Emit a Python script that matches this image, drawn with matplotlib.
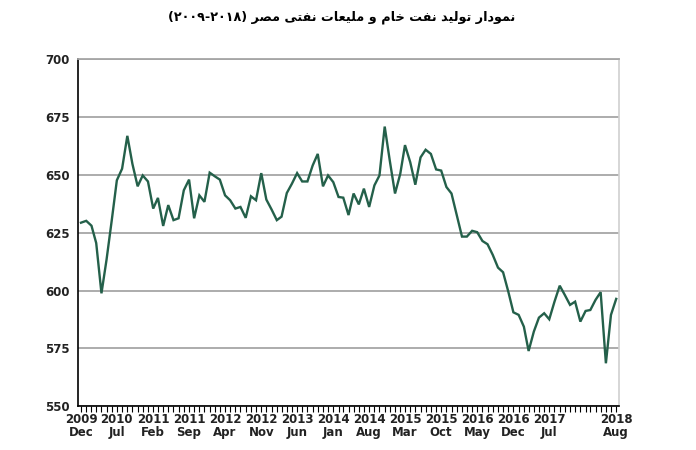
import matplotlib
matplotlib.use("Agg")
import matplotlib.pyplot as plt
import matplotlib.dates as mdates
import pandas as pd
import numpy as np

# ---------------- data ----------------
start_month = "2009-12"
production = [
    629.3, 630.1, 628.0, 620.5, 598.8, 613.3, 630.4, 647.6, 652.6, 666.8,
    654.7, 645.0, 649.7, 647.1, 635.4, 640.0, 627.9, 636.9, 630.4, 631.2,
    643.3, 647.9, 631.2, 641.1, 638.3, 650.9,
    649.3, 647.9, 641.1, 639.0, 635.4, 636.1, 631.4, 640.7, 639.0, 650.7,
    639.3, 635.0, 630.4, 631.9, 642.1, 646.1, 650.7, 647.1, 647.1, 654.0,
    659.0, 645.0, 649.7, 646.8, 640.4, 640.1,
    632.6, 641.9, 637.2, 644.0, 636.1, 645.4, 649.7, 670.8, 656.1, 641.9,
    650.4, 662.8, 655.4, 645.7, 657.5, 660.8, 659.0, 652.3, 651.8, 644.7,
    641.9, 632.6, 623.3, 623.3, 625.8,
    625.2, 621.4, 620.0, 615.4, 609.9, 607.9, 599.5, 590.6, 589.5, 584.4,
    573.9, 582.3, 588.3, 590.2, 587.6, 595.2, 602.1, 598.1, 593.8, 595.2,
    586.6, 591.2, 591.6, 596.0, 599.3, 568.6, 589.5, 596.4,
]
tick_dates = ["2009-12", "2010-07", "2011-02", "2011-09", "2012-04", "2012-11",
              "2013-06", "2014-01", "2014-08", "2015-03", "2015-10", "2016-05",
              "2016-12", "2017-07", "2018-08"]
tick_labels = ["2009\nDec", "2010\nJul", "2011\nFeb", "2011\nSep", "2012\nApr",
               "2012\nNov", "2013\nJun", "2014\nJan", "2014\nAug", "2015\nMar",
               "2015\nOct", "2016\nMay", "2016\nDec", "2017\nJul", "2018\nAug"]
y_ticks = [550, 575, 600, 625, 650, 675, 700]
title_text = "نمودار تولید نفت خام و ملیعات نفتی مصر"
title_years = "(٢٠٠٩-٢٠١٨)"

# ------------- simple Arabic shaping -------------
FORMS = {  # iso, fin, ini, med
    "ا": ("\uFE8D", "\uFE8E", None, None),
    "د": ("\uFEA9", "\uFEAA", None, None),
    "ر": ("\uFEAD", "\uFEAE", None, None),
    "و": ("\uFEED", "\uFEEE", None, None),
    "ت": ("\uFE95", "\uFE96", "\uFE97", "\uFE98"),
    "خ": ("\uFEA5", "\uFEA6", "\uFEA7", "\uFEA8"),
    "ص": ("\uFEB9", "\uFEBA", "\uFEBB", "\uFEBC"),
    "ع": ("\uFEC9", "\uFECA", "\uFECB", "\uFECC"),
    "ف": ("\uFED1", "\uFED2", "\uFED3", "\uFED4"),
    "ل": ("\uFEDD", "\uFEDE", "\uFEDF", "\uFEE0"),
    "م": ("\uFEE1", "\uFEE2", "\uFEE3", "\uFEE4"),
    "ن": ("\uFEE5", "\uFEE6", "\uFEE7", "\uFEE8"),
    "ی": ("\uFEEF", "\uFEF0", "\uFEF3", "\uFEF4"),
}


def shape(text):
    out = []
    n = len(text)
    for i, ch in enumerate(text):
        if ch not in FORMS:
            out.append(ch)
            continue
        f = FORMS[ch]
        prev = text[i - 1] if i > 0 else None
        nxt = text[i + 1] if i + 1 < n else None
        joins_prev = prev in FORMS and FORMS[prev][2] is not None
        joins_next = nxt in FORMS and f[2] is not None
        if joins_prev and joins_next:
            out.append(f[3])
        elif joins_prev:
            out.append(f[1])
        elif joins_next:
            out.append(f[2])
        else:
            out.append(f[0])
    return "".join(out)


visual_title = title_years + " " + shape(title_text)[::-1]

# ---------------- plot ----------------
dates = pd.date_range(start=start_month, periods=len(production), freq="MS")
tdates = pd.to_datetime(tick_dates)

fig = plt.figure(figsize=(6.96, 4.5), dpi=100)
ax = fig.add_axes([0.112, 0.097, 0.777, 0.772])

line_color = "#24604a"
ax.plot(dates, production, color=line_color, lw=1.7, solid_joinstyle="miter", zorder=3)

ax.set_ylim(550, 700)
ax.set_yticks(y_ticks)
ax.set_xlim(dates[0] - pd.Timedelta(days=18), dates[-1] + pd.Timedelta(days=15))
ax.set_xticks(tdates)
ax.set_xticklabels(tick_labels)
ax.xaxis.set_minor_locator(mdates.MonthLocator())

ax.grid(axis="y", color="#a6a6a6", lw=1.3, zorder=0)
ax.grid(axis="x", visible=False)

for s in ["left", "bottom"]:
    ax.spines[s].set_color("black")
    ax.spines[s].set_linewidth(1.2)
ax.spines["top"].set_color("#a6a6a6")
ax.spines["top"].set_linewidth(1.3)
ax.spines["right"].set_color("#d0d0d0")
ax.spines["right"].set_linewidth(1.2)

ax.tick_params(axis="y", length=0, pad=6, labelsize=8.5, labelcolor="#222222")
ax.tick_params(axis="x", which="major", length=4, width=0.8, direction="out",
               pad=1, labelsize=8.5, labelcolor="#222222")
ax.tick_params(axis="x", which="minor", length=4, width=0.8, direction="out")
for lbl in ax.get_xticklabels() + ax.get_yticklabels():
    lbl.set_fontweight("bold")
    lbl.set_family("DejaVu Sans")
for lbl in ax.get_xticklabels():
    lbl.set_linespacing(0.95)

fig.text(0.491, 0.962, visual_title, ha="center", va="center",
         fontsize=9.2, fontweight="bold", family=["DejaVu Sans"])

fig.savefig("out.png", dpi=100, facecolor="white")
